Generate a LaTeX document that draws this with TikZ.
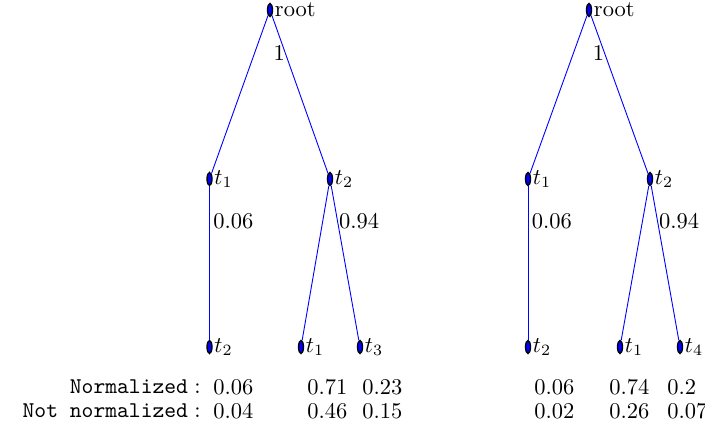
\documentclass[tikz,border=0pt]{standalone}
\usepackage{amsmath}
\usetikzlibrary{shapes.geometric}

\begin{document}
\begin{tikzpicture}[
  x=0.4444pt, y=-0.4444pt,
  vert/.style={ellipse, draw=black, fill=blue, line width=0.6pt, minimum width=2.2pt,
               minimum height=5.8pt, inner sep=0pt},
  vlab/.style={inner sep=0.6pt},
  edge/.style={blue, line width=0.4pt},
  wlab/.style={anchor=west, inner sep=1.5pt, text=black},
  val/.style={anchor=west, inner sep=0pt}
]
\useasboundingbox (0,0) rectangle (705,432);

% left tree
\node[vert, label={[vlab]right:root}] (lroot) at (270,10) {};
\node[vert, label={[vlab]right:$t_1$}] (lt1) at (209.5,179) {};
\node[vert, label={[vlab]right:$t_2$}] (lt2) at (330,179) {};
\node[vert, label={[vlab]right:$t_2$}] (lt12) at (209.5,347) {};
\node[vert, label={[vlab]right:$t_1$}] (lt21) at (301,347) {};
\node[vert, label={[vlab]right:$t_3$}] (lt23) at (360,347) {};

\draw[edge] (lroot) -- (lt1);
\draw[edge] (lroot) -- node[pos=0.24, anchor=east, inner sep=0pt, text=black] {1} (lt2);
\draw[edge] (lt1) -- node[pos=0.23, wlab] {$0.06$} (lt12);
\draw[edge] (lt2) -- (lt21);
\draw[edge] (lt2) -- node[pos=0.23, wlab, inner sep=0.5pt] {$0.94$} (lt23);

% right tree
\node[vert, label={[vlab]right:root}] (rroot) at (589,10) {};
\node[vert, label={[vlab]right:$t_1$}] (rt1) at (528,179) {};
\node[vert, label={[vlab]right:$t_2$}] (rt2) at (650,179) {};
\node[vert, label={[vlab]right:$t_2$}] (rt12) at (528,347) {};
\node[vert, label={[vlab]right:$t_1$}] (rt21) at (620,347) {};
\node[vert, label={[vlab]right:$t_4$}] (rt24) at (680,347) {};

\draw[edge] (rroot) -- (rt1);
\draw[edge] (rroot) -- node[pos=0.24, anchor=east, inner sep=0pt, text=black] {1} (rt2);
\draw[edge] (rt1) -- node[pos=0.23, wlab] {$0.06$} (rt12);
\draw[edge] (rt2) -- (rt21);
\draw[edge] (rt2) -- node[pos=0.23, wlab, inner sep=0.5pt] {$0.94$} (rt24);

% scores
\node[anchor=east, inner sep=0pt] (norm) at (201,387) {$\texttt{Normalized}:$};
\node[anchor=east, inner sep=0pt] (nonorm) at (201,411) {$\texttt{Not normalized}:$};

\node[val] (ln1) at (213,387) {$0.06$};
\node[val] (ln2) at (307,387) {$0.71$};
\node[val] (ln3) at (362,387) {$0.23$};
\node[val] (lu1) at (213,411) {$0.04$};
\node[val] (lu2) at (307,411) {$0.46$};
\node[val] (lu3) at (362,411) {$0.15$};

\node[val] (rn1) at (534,387) {$0.06$};
\node[val] (rn2) at (609,387) {$0.74$};
\node[val] (rn3) at (667,387) {$0.2$};
\node[val] (ru1) at (534,411) {$0.02$};
\node[val] (ru2) at (609,411) {$0.26$};
\node[val] (ru3) at (667,411) {$0.07$};
\end{tikzpicture}
\end{document}
